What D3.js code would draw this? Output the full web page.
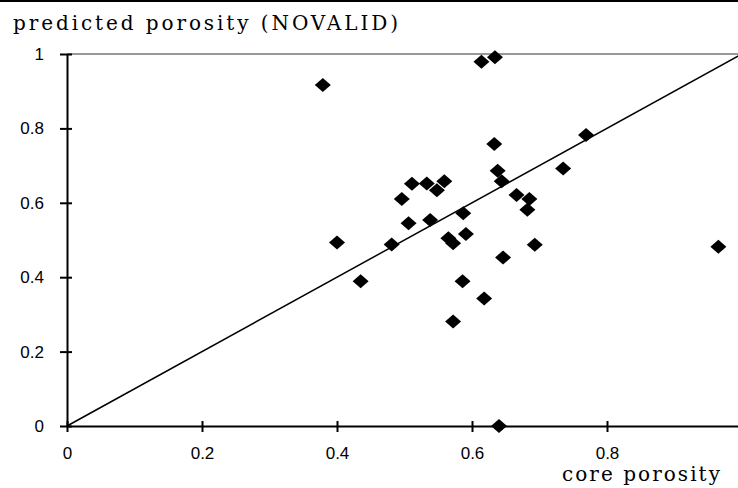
<!DOCTYPE html>
<html>
<head>
<meta charset="utf-8">
<script src="https://cdn.jsdelivr.net/npm/d3@7"></script>
<style>
  body { margin: 0; background: #fff; }
  svg { display: block; }
  .axis text { font-family: "Liberation Sans", Arial, sans-serif; font-size: 17px; fill: #000; }
  .axis path, .axis line { stroke: #000; }
  .label { font-family: "DejaVu Serif", serif; font-size: 20px; fill: #000; }
</style>
</head>
<body>
<div id="chart"></div>
<script>
// Porosité mesurée sur carotte vs porosité prédite (NOVALID)
let corePorosity = [0.379, 0.614, 0.634, 0.633, 0.769, 0.735, 0.638, 0.644, 0.511, 0.533,
                    0.559, 0.548, 0.496, 0.666, 0.685, 0.682, 0.587, 0.506, 0.538, 0.400,
                    0.481, 0.565, 0.572, 0.591, 0.693, 0.646, 0.435, 0.586, 0.618, 0.572,
                    0.965, 0.640];
let predictedPorosity = [0.917, 0.979, 0.991, 0.758, 0.782, 0.692, 0.686, 0.658, 0.651, 0.652,
                         0.658, 0.634, 0.610, 0.621, 0.610, 0.581, 0.572, 0.545, 0.554, 0.493,
                         0.488, 0.505, 0.491, 0.516, 0.487, 0.453, 0.389, 0.389, 0.343, 0.281,
                         0.482, 0.000];

let xTicks = [0, 0.2, 0.4, 0.6, 0.8, 1];
let xTickLabels = ["0", "0.2", "0.4", "0.6", "0.8", "1"];
let yTicks = [0, 0.2, 0.4, 0.6, 0.8, 1];
let yTickLabels = ["0", "0.2", "0.4", "0.6", "0.8", "1"];

let width = 738;
let height = 488;

let points = corePorosity.map((d, i) => ({core: d, pred: predictedPorosity[i]}));

let svg = d3.select("#chart")
            .append("svg")
            .attr("width", width)
            .attr("height", height);

svg.append("rect")
   .attr("width", width)
   .attr("height", height)
   .style("fill", "#fff");

// Echelles (la zone de tracé dépasse à droite, le "1" est coupé)
let xScale = d3.scaleLinear()
               .domain([0, 1])
               .range([67, 742]);

let yScale = d3.scaleLinear()
               .domain([0, 1])
               .range([426, 54]);

// bord haut de l'image
svg.append("line")
   .attr("x1", 0)
   .attr("x2", width)
   .attr("y1", 1)
   .attr("y2", 1)
   .style("stroke", "#000")
   .style("stroke-width", 2);

// bord haut de la zone de tracé
svg.append("line")
   .attr("x1", xScale(0))
   .attr("x2", width)
   .attr("y1", yScale(1))
   .attr("y2", yScale(1))
   .style("stroke", "#333")
   .style("stroke-width", 1);

// droite y = x
svg.append("line")
   .attr("x1", xScale(0))
   .attr("y1", yScale(0))
   .attr("x2", xScale(1))
   .attr("y2", yScale(1))
   .style("stroke", "#000")
   .style("stroke-width", 1.5);

// Axes
let xAxis = svg.append("g")
               .attr("class", "x axis")
               .attr("transform", `translate(0,${yScale(0)})`)
               .call(d3.axisBottom(xScale)
                       .tickValues(xTicks)
                       .tickFormat((d, i) => xTickLabels[i])
                       .tickSizeInner(6)
                       .tickSizeOuter(0)
                       .tickPadding(15));

xAxis.select(".domain").style("stroke-width", 2);
xAxis.selectAll(".tick line")
     .attr("y1", -5)
     .attr("y2", 6)
     .style("stroke-width", 2);

let yAxis = svg.append("g")
               .attr("class", "y axis")
               .attr("transform", `translate(${xScale(0)},0)`)
               .call(d3.axisLeft(yScale)
                       .tickValues(yTicks)
                       .tickFormat((d, i) => yTickLabels[i])
                       .tickSizeInner(7)
                       .tickSizeOuter(0)
                       .tickPadding(16));

yAxis.select(".domain").style("stroke-width", 2);
yAxis.selectAll(".tick line")
     .attr("x1", -7)
     .attr("x2", 5)
     .style("stroke-width", 2);

// Points (losanges noirs)
svg.append("g")
   .attr("class", "dotGroup")
   .selectAll("path")
   .data(points)
   .enter()
   .append("path")
   .attr("d", "M0,-7L8,0L0,7L-8,0Z")
   .attr("transform", d => `translate(${xScale(d.core)},${yScale(d.pred)})`)
   .style("fill", "#000");

// Légendes des axes
svg.append("text")
   .attr("class", "label")
   .attr("x", 13)
   .attr("y", 30)
   .attr("textLength", 385)
   .attr("lengthAdjust", "spacing")
   .text("predicted porosity (NOVALID)");

svg.append("text")
   .attr("class", "label")
   .attr("x", 562)
   .attr("y", 481)
   .attr("textLength", 158)
   .attr("lengthAdjust", "spacing")
   .text("core porosity");
</script>
</body>
</html>
